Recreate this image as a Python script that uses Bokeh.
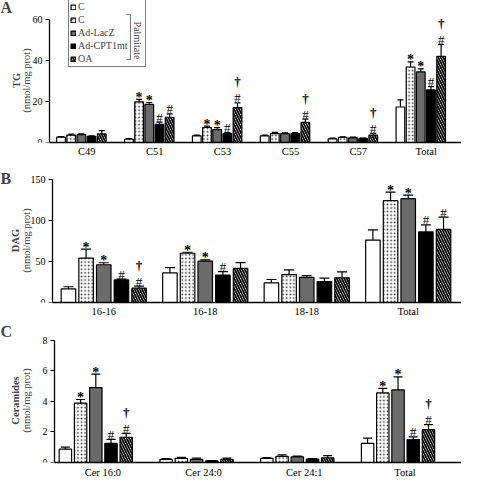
import math
from bokeh.plotting import figure
from bokeh.layouts import column
from bokeh.models import (ColumnDataSource, Range1d, FixedTicker, Whisker, TeeHead,
                          Label, Legend, LegendItem, PolyAnnotation)
from bokeh.core.properties import value
from bokeh.embed import file_html
from bokeh.resources import INLINE

FONT = "Liberation Serif"
W = 461

series_names = ["C", "C", "Ad-LacZ", "Ad-CPT1mt", "OA"]

# ---------------- Panel A: TG ----------------
tg_cats = ["C49", "C51", "C53", "C55", "C57", "Total"]
tg_c = [2.6, 1.6, 3.2, 3.2, 1.8, 17.3]
tg_c_err = [0.3, 0.3, 0.4, 0.4, 0.3, 3.5]
tg_cpal = [3.6, 19.8, 7.3, 4.3, 2.5, 36.8]
tg_cpal_err = [0.5, 1.2, 0.7, 0.6, 0.3, 2.5]
tg_lacz = [3.8, 18.6, 6.3, 4.3, 2.3, 34.4]
tg_lacz_err = [0.4, 0.9, 0.9, 0.4, 0.3, 1.5]
tg_cpt = [3.0, 8.8, 4.3, 4.3, 2.0, 25.6]
tg_cpt_err = [0.3, 1.1, 0.5, 0.5, 0.2, 1.6]
tg_oa = [4.2, 12.3, 17.0, 9.8, 3.6, 42.0]
tg_oa_err = [1.6, 1.6, 2.3, 1.6, 0.8, 5.8]
tg_sig = [["", "", "", "", "", ""],
          ["", "*", "*", "", "", "*"],
          ["", "*", "*", "", "", "*"],
          ["", "#", "#", "", "", "#"],
          ["", "#", "#†", "#†", "#†", "#†"]]
tg_ticks = [0, 20, 40, 60]

# ---------------- Panel B: DAG ----------------
dag_cats = ["16-16", "16-18", "18-18", "Total"]
dag_c = [16.5, 36.0, 24.0, 76.0]
dag_c_err = [2.7, 6.5, 4.0, 12.5]
dag_cpal = [54.0, 60.0, 34.0, 124.0]
dag_cpal_err = [11.0, 1.2, 5.8, 10.5]
dag_lacz = [46.0, 50.5, 30.5, 126.5]
dag_lacz_err = [2.4, 1.5, 2.3, 4.3]
dag_cpt = [27.5, 33.5, 25.5, 86.0]
dag_cpt_err = [1.0, 4.0, 4.3, 8.5]
dag_oa = [17.5, 41.5, 30.0, 89.0]
dag_oa_err = [2.5, 7.0, 7.4, 15.0]
dag_sig = [["", "", "", ""],
           ["*", "*", "", "*"],
           ["*", "*", "", "*"],
           ["#", "#", "", "#"],
           ["#†", "", "", "#"]]
dag_ticks = [0, 50, 100, 150]

# ---------------- Panel C: Ceramides ----------------
cer_cats = ["Cer 16:0", "Cer 24:0", "Cer 24:1", "Total"]
cer_c = [0.87, 0.20, 0.27, 1.25]
cer_c_err = [0.13, 0.05, 0.05, 0.35]
cer_cpal = [3.88, 0.27, 0.40, 4.55]
cer_cpal_err = [0.24, 0.06, 0.10, 0.30]
cer_lacz = [4.90, 0.20, 0.37, 4.75]
cer_lacz_err = [0.88, 0.08, 0.05, 0.85]
cer_cpt = [1.25, 0.10, 0.22, 1.50]
cer_cpt_err = [0.26, 0.03, 0.04, 0.17]
cer_oa = [1.65, 0.20, 0.30, 2.15]
cer_oa_err = [0.26, 0.08, 0.15, 0.33]
cer_sig = [["", "", "", ""],
           ["*", "", "", "*"],
           ["*", "", "", "*"],
           ["#", "", "", "#"],
           ["#†", "", "", "#†"]]
cer_ticks = [0, 2, 4, 6, 8]

STYLES = [
    dict(fill_color="white"),
    dict(fill_color="white", hatch_pattern="dot", hatch_color="#333333", hatch_scale=3.6, hatch_weight=1.0),
    dict(fill_color="#6b6b6b"),
    dict(fill_color="black"),
    dict(fill_color="white", hatch_pattern="left_diagonal_line", hatch_color="black", hatch_scale=5, hatch_weight=1.7),
]


def build(cats, vals, errs, sigs, yticks, ylab, letter, pitch, bw, shift, lpad, rpad, cap,
          height, data_top, axis_x, lab1_x, lab2_x, letter_y, xstand):
    n = len(cats)
    bottom = 16
    frame_h = height - bottom
    data_h = frame_h - data_top
    y_end = yticks[-1] * frame_h / data_h
    x_axis_pos = -shift - lpad
    x_end = n - 1 - shift + rpad
    u = (W - axis_x) / (x_end - x_axis_pos)
    x_start = x_axis_pos - axis_x / u

    p = figure(width=W, height=height, output_backend="svg", toolbar_location=None,
               x_range=Range1d(x_start, x_end), y_range=Range1d(0, y_end),
               min_border_left=0, min_border_right=0, min_border_top=0,
               min_border_bottom=bottom)
    p.outline_line_color = None
    p.xgrid.visible = False
    p.ygrid.visible = False

    rs = []
    for j in range(5):
        xs = [i - shift + (j - 2) * pitch for i in range(n)]
        ups = [v + e for v, e in zip(vals[j], errs[j])]
        src = ColumnDataSource(dict(x=xs, top=vals[j], up=ups))
        r = p.vbar(x="x", top="top", bottom=0, width=bw, source=src,
                   line_color="black", line_width=1.2, **STYLES[j])
        rs.append(r)
        w = Whisker(source=src, base="x", lower="top", upper="up", dimension="height",
                    line_color="black", line_width=1.2, level="annotation",
                    upper_head=TeeHead(size=cap, line_color="black", line_width=1.2),
                    lower_head=None)
        p.add_layout(w)
        for sym, size, style, off in (("*", "14px", "bold", -2), ("#", "13px", "normal", -5),
                                      ("†", "13px", "bold", -21)):
            sx = [xs[i] for i in range(n) if sym in sigs[j][i]]
            sy = [ups[i] for i in range(n) if sym in sigs[j][i]]
            if sx:
                p.text(x=sx, y=sy, text=[sym] * len(sx), text_font=value(FONT),
                       text_font_size=size, text_font_style=style, text_align="center",
                       text_baseline="alphabetic", y_offset=off, text_color="black")

    # x axis
    p.xaxis.ticker = FixedTicker(ticks=list(range(n)))
    p.xaxis.major_label_overrides = {i: c for i, c in enumerate(cats)}
    p.xaxis.bounds = (x_axis_pos, x_end)
    p.xaxis.major_tick_out = 0
    p.xaxis.major_tick_in = 0
    p.xaxis.minor_tick_out = 0
    p.xaxis.minor_tick_in = 0
    p.xaxis.major_label_standoff = xstand
    p.xaxis.axis_line_width = 1.3
    p.xaxis.major_label_text_font = FONT
    p.xaxis.major_label_text_font_size = "10.5px"
    p.xaxis.major_label_text_color = "black"

    # y axis drawn inside the frame at a fixed position
    p.yaxis.fixed_location = x_axis_pos
    p.yaxis.bounds = (0, yticks[-1])
    p.yaxis.ticker = FixedTicker(ticks=yticks)
    p.yaxis.major_tick_out = 4
    p.yaxis.major_tick_in = 0
    p.yaxis.minor_tick_out = 0
    p.yaxis.minor_tick_in = 0
    p.yaxis.major_tick_line_width = 1.2
    p.yaxis.axis_line_width = 1.3
    p.yaxis.major_label_standoff = 3
    p.yaxis.major_label_text_font = FONT
    p.yaxis.major_label_text_font_size = "10px"
    p.yaxis.major_label_text_color = "black"

    mid = data_h / 2
    p.add_layout(Label(x=lab2_x, y=mid, x_units="screen", y_units="screen", text="(nmol/mg prot)",
                       angle=math.pi / 2, text_font=FONT, text_font_size="10.5px",
                       text_align="center", text_baseline="middle"))
    p.add_layout(Label(x=lab1_x, y=mid, x_units="screen", y_units="screen", text=ylab,
                       angle=math.pi / 2, text_font=FONT, text_font_size="10.5px",
                       text_font_style="bold", text_align="center", text_baseline="middle"))
    p.add_layout(Label(x=0, y=letter_y, x_units="screen", y_units="screen", text=letter,
                       text_font=FONT, text_font_style="bold", text_font_size="16px",
                       text_align="left", text_baseline="middle"))
    return p, rs


pA, rsA = build(tg_cats, [tg_c, tg_cpal, tg_lacz, tg_cpt, tg_oa],
                [tg_c_err, tg_cpal_err, tg_lacz_err, tg_cpt_err, tg_oa_err], tg_sig, tg_ticks,
                "TG", "A", pitch=0.15, bw=0.128, shift=0.08, lpad=0.47, rpad=0.6, cap=6,
                height=159, data_top=19, axis_x=49, lab1_x=16, lab2_x=26, letter_y=135, xstand=3)

legend = Legend(items=[LegendItem(label=series_names[j], renderers=[rsA[j]]) for j in range(5)],
                location=(68, 75), orientation="vertical", padding=1, spacing=0,
                label_height=13, label_width=66, glyph_width=6, glyph_height=6, label_standoff=2,
                label_text_font=FONT, label_text_font_size="10px", border_line_color="black",
                border_line_width=1, background_fill_alpha=0.0, margin=0)
pA.add_layout(legend)
pA.add_layout(PolyAnnotation(xs=[126, 130, 130, 126, 130, 130], ys=[128, 128, 83, 83, 83, 128],
                             xs_units="screen", ys_units="screen", fill_alpha=0,
                             line_color="black", line_width=1, level="overlay"))
pA.add_layout(Label(x=136.5, y=102, x_units="screen", y_units="screen", text="Palmitate",
                    angle=-math.pi / 2, text_font=FONT, text_font_size="10px",
                    text_align="center", text_baseline="middle", level="overlay"))

pB, rsB = build(dag_cats, [dag_c, dag_cpal, dag_lacz, dag_cpt, dag_oa],
                [dag_c_err, dag_cpal_err, dag_lacz_err, dag_cpt_err, dag_oa_err], dag_sig, dag_ticks,
                "DAG", "B", pitch=0.174, bw=0.143, shift=0.0, lpad=0.505, rpad=0.525, cap=10,
                height=160, data_top=20, axis_x=52, lab1_x=15, lab2_x=26, letter_y=124, xstand=3)

pC, rsC = build(cer_cats, [cer_c, cer_cpal, cer_lacz, cer_cpt, cer_oa],
                [cer_c_err, cer_cpal_err, cer_lacz_err, cer_cpt_err, cer_oa_err], cer_sig, cer_ticks,
                "Ceramides", "C", pitch=0.151, bw=0.123, shift=0.07, lpad=0.41, rpad=0.63, cap=9,
                height=161, data_top=21, axis_x=54, lab1_x=15, lab2_x=26, letter_y=131, xstand=4)

layout = column(pA, pB, pC, spacing=0)
open("out.html", "w").write(file_html(layout, INLINE))
